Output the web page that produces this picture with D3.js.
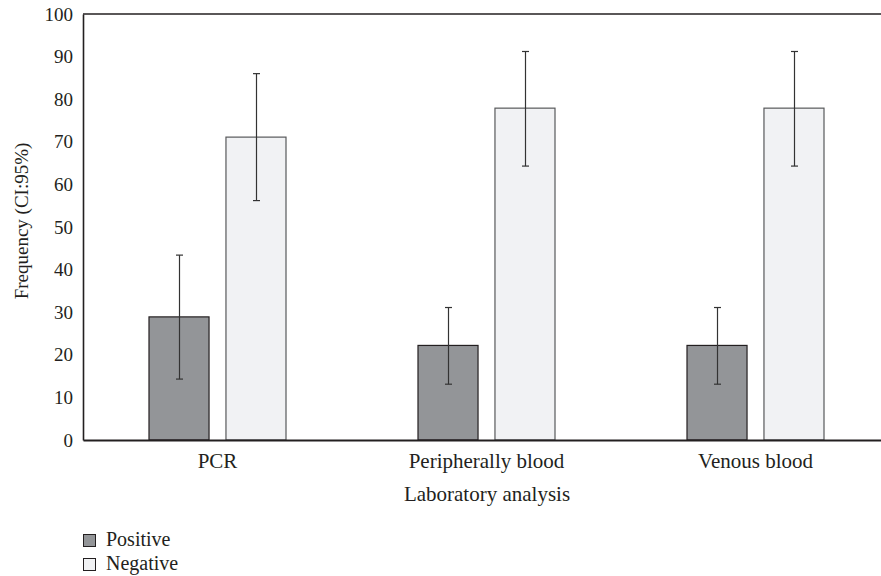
<!DOCTYPE html>
<html><head><meta charset="utf-8">
<script src="https://cdn.jsdelivr.net/npm/d3@7"></script>
<style>body{margin:0;background:#fff}svg{display:block}text{font-family:"Liberation Serif","DejaVu Serif",serif;fill:#231f20}</style>
</head><body><svg id="c" width="881" height="576"></svg>
<script>
const categories = ["PCR", "Peripherally blood", "Venous blood"];
const seriesNames = ["Positive", "Negative"];
const positive = [28.9, 22.2, 22.2];
const positiveLow = [14.3, 13.1, 13.1];
const positiveHigh = [43.4, 31.1, 31.1];
const negative = [71.1, 77.9, 77.9];
const negativeLow = [56.2, 64.3, 64.3];
const negativeHigh = [86.0, 91.2, 91.2];
const yTicks = [0, 10, 20, 30, 40, 50, 60, 70, 80, 90, 100];

const svg = d3.select("#c");
const mLeft = 83, mRight = 890, mTop = 14, mBottom = 440;
const x = d3.scaleBand().domain(categories).range([mLeft, mRight]);
const y = d3.scaleLinear().domain([0, 100]).range([mBottom, mTop]);
const sub = d3.scaleBand().domain(seriesNames).range([-68.5, 68.5]).paddingInner(0.22).paddingOuter(0);
const colors = {Positive: "#939598", Negative: "#f1f2f4"};

const data = [];
categories.forEach((c, i) => {
  data.push({c, s: "Positive", v: positive[i], lo: positiveLow[i], hi: positiveHigh[i]});
  data.push({c, s: "Negative", v: negative[i], lo: negativeLow[i], hi: negativeHigh[i]});
});
const cx = d => x(d.c) + x.bandwidth() / 2;

// bars
svg.append("g").selectAll("rect").data(data).join("rect")
  .attr("x", d => cx(d) + sub(d.s))
  .attr("width", sub.bandwidth())
  .attr("y", d => y(d.v))
  .attr("height", d => y(0) - y(d.v))
  .attr("fill", d => colors[d.s])
  .attr("stroke", d => d.s === "Positive" ? "#231f20" : "#58595b")
  .attr("stroke-width", 1.2);

// error bars
const eb = svg.append("g").attr("stroke", "#333").attr("stroke-width", 1.2);
data.forEach(d => {
  const xm = Math.round(cx(d) + sub(d.s) + sub.bandwidth() / 2) + 0.5;
  eb.append("line").attr("x1", xm).attr("x2", xm).attr("y1", y(d.lo)).attr("y2", y(d.hi));
  [d.lo, d.hi].forEach(v => eb.append("line").attr("x1", xm - 3.5).attr("x2", xm + 3.5).attr("y1", y(v)).attr("y2", y(v)));
});

// axes
const yAxis = d3.axisLeft(y).tickValues(yTicks).tickSize(0).tickPadding(10);
const gy = svg.append("g").attr("transform", `translate(${mLeft},0)`).call(yAxis);
gy.attr("font-family", null).attr("font-size", null);
gy.select(".domain").attr("stroke", "#231f20").attr("stroke-width", 1.6);
gy.selectAll("text").attr("font-size", 19).attr("fill", "#231f20");

const xAxis = d3.axisBottom(x).tickSize(0).tickPadding(13);
const gx = svg.append("g").attr("transform", `translate(0,${mBottom})`).call(xAxis);
gx.attr("font-family", null).attr("font-size", null);
gx.select(".domain").attr("stroke", "#231f20").attr("stroke-width", 2);
gx.selectAll("text").attr("font-size", 21).attr("fill", "#231f20");

// top border
svg.append("line").attr("x1", mLeft).attr("x2", mRight).attr("y1", mTop).attr("y2", mTop)
  .attr("stroke", "#231f20").attr("stroke-width", 1.6);

// titles
svg.append("text").attr("x", 487).attr("y", 501).attr("text-anchor", "middle")
  .attr("font-size", 21).text("Laboratory analysis");
svg.append("text").attr("transform", `translate(28,221) rotate(-90)`)
  .attr("text-anchor", "middle").attr("font-size", 19).text("Frequency (CI:95%)");

// legend
const lg = svg.append("g");
seriesNames.forEach((s, i) => {
  lg.append("rect").attr("x", 83.5).attr("y", 534.5 + i * 24).attr("width", 12).attr("height", 12)
    .attr("fill", colors[s]).attr("stroke", "#231f20").attr("stroke-width", 1);
  lg.append("text").attr("x", 106).attr("y", 546 + i * 24).attr("font-size", 20).text(s);
});
</script></body></html>
